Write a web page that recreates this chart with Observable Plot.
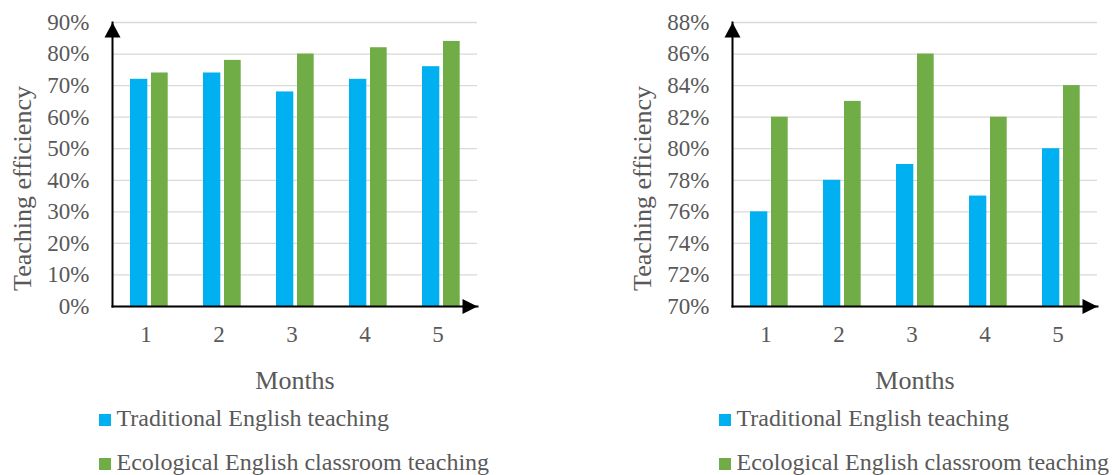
<!DOCTYPE html>
<html>
<head>
<meta charset="utf-8">
<script src="https://cdn.jsdelivr.net/npm/d3@7"></script>
<script src="https://cdn.jsdelivr.net/npm/@observablehq/plot@0.6"></script>
<style>
  html, body { margin: 0; padding: 0; background: #fff; }
  #page { position: relative; width: 1112px; height: 475px; overflow: hidden; font-family: "Liberation Serif", "Times New Roman", serif; color: #595959; }
  .panel { position: absolute; top: 0; width: 492px; height: 475px; }
  .panel svg { display: block; }
  .legend-item { position: absolute; display: flex; align-items: center; font-size: 24px; line-height: 26px; white-space: nowrap; }
  .legend-item .swatch { width: 12px; height: 12px; margin-right: 5.5px; position: relative; top: 2px; }
</style>
</head>
<body>
<div id="page"></div>
<script>
// Months on the horizontal axis
const months = [1, 2, 3, 4, 5];
const seriesNames = ["Traditional English teaching", "Ecological English classroom teaching"];
const seriesColors = ["#00B0F0", "#70AD47"];

// Panel A: teaching efficiency (%), full scale
const panelATraditional = [72, 74, 68, 72, 76];
const panelAEcological = [74, 78, 80, 82, 84];
const panelATicks = [0, 10, 20, 30, 40, 50, 60, 70, 80, 90];

// Panel B: teaching efficiency (%), zoomed scale
const panelBTraditional = [76, 78, 79, 77, 80];
const panelBEcological = [82, 83, 86, 82, 84];
const panelBTicks = [70, 72, 74, 76, 78, 80, 82, 84, 86, 88];

const yTitle = "Teaching efficiency";
const xTitle = "Months";

// Filled arrowheads drawn as custom symbols, tip at the symbol origin
const arrowUp = {draw(ctx) { ctx.moveTo(0, 0); ctx.lineTo(-8, 15); ctx.lineTo(8, 15); ctx.closePath(); }};
const arrowRight = {draw(ctx) { ctx.moveTo(0, 0); ctx.lineTo(-15, -7.5); ctx.lineTo(-15, 7.5); ctx.closePath(); }};

function rows(values) {
  return months.map((m, i) => ({month: m, value: values[i]}));
}

function panel(traditional, ecological, ticks) {
  const base = ticks[0];
  const top = ticks[ticks.length - 1];
  const pct = d => `${d}%`;
  return Plot.plot({
    width: 492,
    height: 395,
    marginLeft: 112,
    marginRight: 15,
    marginTop: 22,
    marginBottom: 89,
    style: {fontFamily: "Liberation Serif, Times New Roman, serif", color: "#595959", background: "white", overflow: "visible"},
    x: {type: "band", domain: months, padding: 0, label: null},
    y: {domain: [base, top], label: null},
    marks: [
      Plot.gridY(ticks, {stroke: "#d9d9d9", strokeOpacity: 1, strokeWidth: 1.3}),
      Plot.axisY(ticks, {tickSize: 0, tickPadding: 23, fontSize: 23, tickFormat: pct, label: null}),
      Plot.axisX({tickSize: 0, tickPadding: 19, fontSize: 23, dx: -3, label: null}),
      Plot.barY(rows(traditional), {x: "month", y1: base, y2: "value", fill: seriesColors[0], insetLeft: 18, insetRight: 37.7}),
      Plot.barY(rows(ecological), {x: "month", y1: base, y2: "value", fill: seriesColors[1], insetLeft: 39, insetRight: 17.3}),
      Plot.frame({anchor: "left", stroke: "black", strokeWidth: 2}),
      Plot.frame({anchor: "bottom", stroke: "black", strokeWidth: 2}),
      Plot.dot([0], {frameAnchor: "top-left", symbol: arrowUp, fill: "black", stroke: null}),
      Plot.dot([0], {frameAnchor: "bottom-right", symbol: arrowRight, fill: "black", stroke: null}),
      Plot.text([yTitle], {frameAnchor: "left", textAnchor: "middle", rotate: -90, dx: -90, dy: 24, fontSize: 26, fill: "#595959"}),
      Plot.text([xTitle], {frameAnchor: "bottom", dy: 82, fontSize: 26, fill: "#595959"})
    ]
  });
}

function legend(container) {
  const tops = [405, 449];
  seriesNames.forEach((name, i) => {
    const item = document.createElement("div");
    item.className = "legend-item";
    item.style.left = "99px";
    item.style.top = `${tops[i]}px`;
    const sw = document.createElement("span");
    sw.className = "swatch";
    sw.style.background = seriesColors[i];
    const label = document.createElement("span");
    label.textContent = name;
    item.append(sw, label);
    container.append(item);
  });
}

const page = document.getElementById("page");
[[panelATraditional, panelAEcological, panelATicks, 0],
 [panelBTraditional, panelBEcological, panelBTicks, 620]].forEach(([t, e, ticks, left]) => {
  const div = document.createElement("div");
  div.className = "panel";
  div.style.left = `${left}px`;
  div.append(panel(t, e, ticks));
  legend(div);
  page.append(div);
});
</script>
</body>
</html>
